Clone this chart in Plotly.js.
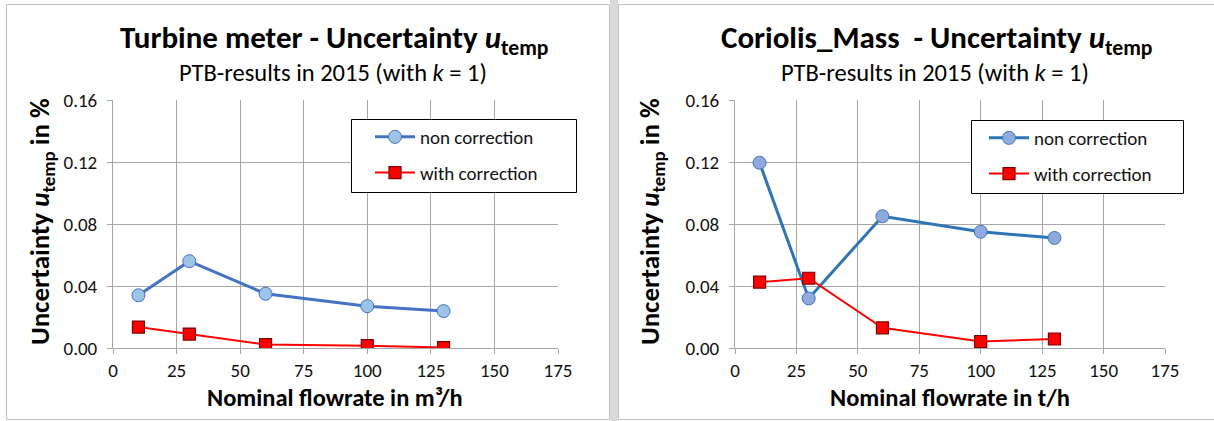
<!DOCTYPE html>
<html>
<head>
<meta charset="utf-8">
<script src="https://cdn.plot.ly/plotly-3.0.1.min.js"></script>
<style>
html,body{margin:0;padding:0;background:#fff;}
#chart{width:1214px;height:421px;}
</style>
</head>
<body>
<div id="chart"></div>
<script>
// ---- data ----
const flowTurbine = [10, 30, 60, 100, 130];
const turbineNonCorr = [0.034, 0.056, 0.035, 0.027, 0.0238];
const turbineWithCorr = [0.0135, 0.009, 0.0022, 0.0015, 0.0003];

const flowCoriolis = [10, 30, 60, 100, 130];
const coriolisNonCorr = [0.1195, 0.032, 0.085, 0.075, 0.071];
const coriolisWithCorr = [0.0425, 0.045, 0.013, 0.0042, 0.0058];

const xTicks = [0, 25, 50, 75, 100, 125, 150, 175];
const yTicks = [0, 0.04, 0.08, 0.12, 0.16];
const seriesNames = ["non correction", "with correction"];

const W = 1214, H = 421;
const FONT = "Carlito, Lato, 'Open Sans', sans-serif";
const px = v => v / W;
const py = v => 1 - v / H;

const traces = [
  {x: flowTurbine, y: turbineNonCorr, name: seriesNames[0], xaxis: 'x', yaxis: 'y', legend: 'legend', legendgroup: 'a',
   mode: 'lines+markers', line: {color: '#4472C4', width: 3},
   marker: {symbol: 'circle', size: 13, color: '#9DC3E6', line: {color: '#4472C4', width: 1}}},
  {x: flowTurbine, y: turbineWithCorr, name: seriesNames[1], xaxis: 'x', yaxis: 'y', legend: 'legend', legendgroup: 'b',
   mode: 'lines+markers', line: {color: '#FF0000', width: 2},
   marker: {symbol: 'square', size: 12, color: '#FF0000', line: {color: '#7F0000', width: 1.2}}},
  {x: flowCoriolis, y: coriolisNonCorr, name: seriesNames[0], xaxis: 'x2', yaxis: 'y2', legend: 'legend2', legendgroup: 'c',
   mode: 'lines+markers', line: {color: '#2E75B6', width: 3},
   marker: {symbol: 'circle', size: 13, color: '#8FAADC', line: {color: '#4472C4', width: 1}}},
  {x: flowCoriolis, y: coriolisWithCorr, name: seriesNames[1], xaxis: 'x2', yaxis: 'y2', legend: 'legend2', legendgroup: 'd',
   mode: 'lines+markers', line: {color: '#FF0000', width: 2},
   marker: {symbol: 'square', size: 12, color: '#FF0000', line: {color: '#7F0000', width: 1.2}}}
];

function xax(d0, d1, anchor) {
  return {domain: [px(d0), px(d1)], range: [0, 175], tickvals: xTicks, ticktext: xTicks.map(String),
    showgrid: true, gridcolor: '#A6A6A6', gridwidth: 1, zeroline: false,
    showline: true, linecolor: '#A6A6A6', linewidth: 1, ticks: 'outside', ticklen: 5, tickcolor: '#A6A6A6',
    tickfont: {family: FONT, size: 19, color: '#111'}, anchor: anchor, fixedrange: true};
}
function yax(anchor) {
  return {domain: [py(348), py(100)], range: [0, 0.16], tickvals: yTicks, tickformat: '.2f',
    showgrid: true, gridcolor: '#A6A6A6', gridwidth: 1, zeroline: false,
    showline: true, linecolor: '#A6A6A6', linewidth: 1, ticks: 'outside', ticklen: 5, tickcolor: '#A6A6A6',
    ticklabelstandoff: 6,
    tickfont: {family: FONT, size: 19, color: '#111'}, anchor: anchor, fixedrange: true};
}

function legendCfg(x0, y0) {
  return {x: px(x0), y: py(y0), xanchor: 'left', yanchor: 'top',
    bgcolor: 'rgba(0,0,0,0)', borderwidth: 0,
    font: {family: FONT, size: 19, color: '#111'}, traceorder: 'grouped', tracegroupgap: 8,
    itemwidth: 40};
}

const ann = [];
function addText(text, x, y, size, opts) {
  ann.push(Object.assign({text: text, x: px(x), y: py(y), xref: 'paper', yref: 'paper',
    showarrow: false, xanchor: 'center', yanchor: 'middle',
    font: {family: FONT, size: size, color: '#000'}}, opts || {}));
}
addText('<b>Turbine meter - Uncertainty <i>u</i><sub>temp</sub></b>', 334, 40, 31);
addText('PTB-results in 2015 (with <i>k</i> = 1)', 333, 73, 24.5);
addText('<b>Coriolis_Mass  - Uncertainty <i>u</i><sub>temp</sub></b>', 936, 40, 31);
addText('PTB-results in 2015 (with <i>k</i> = 1)', 935, 73, 24.5);
addText('<b>Nominal flowrate in m³/h</b>', 335, 398, 24.5);
addText('<b>Nominal flowrate in t/h</b>', 950, 398, 24.5);
addText('<b>Uncertainty <i>u</i><sub>temp</sub> in %</b>', 41, 222, 27, {textangle: -90});
addText('<b>Uncertainty <i>u</i><sub>temp</sub> in %</b>', 651, 222, 27, {textangle: -90});

const shapes = [
  {type: 'rect', xref: 'paper', yref: 'paper', x0: px(610), x1: px(618), y0: 0, y1: 1,
   fillcolor: '#D9D9D9', line: {width: 0}, layer: 'below'},
  {type: 'rect', xref: 'paper', yref: 'paper', x0: px(6.5), x1: px(609.5), y0: py(419.5), y1: py(4.5),
   fillcolor: 'rgba(0,0,0,0)', line: {color: '#BFBFBF', width: 1}, layer: 'below'},
  {type: 'rect', xref: 'paper', yref: 'paper', x0: px(618.5), x1: px(1216), y0: py(419.5), y1: py(4.5),
   fillcolor: 'rgba(0,0,0,0)', line: {color: '#BFBFBF', width: 1}, layer: 'below'},
  // legend boxes
  {type: 'rect', xref: 'paper', yref: 'paper', x0: px(351.5), x1: px(576.5), y0: py(192.5), y1: py(119.5),
   fillcolor: '#FFFFFF', line: {color: '#000000', width: 1}, layer: 'above'},
  {type: 'rect', xref: 'paper', yref: 'paper', x0: px(971.5), x1: px(1183.5), y0: py(193.5), y1: py(120.5),
   fillcolor: '#FFFFFF', line: {color: '#000000', width: 1}, layer: 'above'}
];

const layout = {
  width: W, height: H, margin: {l: 0, r: 0, t: 0, b: 0},
  paper_bgcolor: '#FFFFFF', plot_bgcolor: '#FFFFFF',
  font: {family: FONT},
  xaxis: xax(113, 558, 'y'), yaxis: yax('x'),
  xaxis2: xax(735, 1165, 'y2'), yaxis2: yax('x2'),
  legend: legendCfg(370, 118),
  legend2: legendCfg(984, 119),
  annotations: ann, shapes: shapes
};

Plotly.newPlot('chart', traces, layout, {displayModeBar: false, staticPlot: true});
</script>
</body>
</html>
